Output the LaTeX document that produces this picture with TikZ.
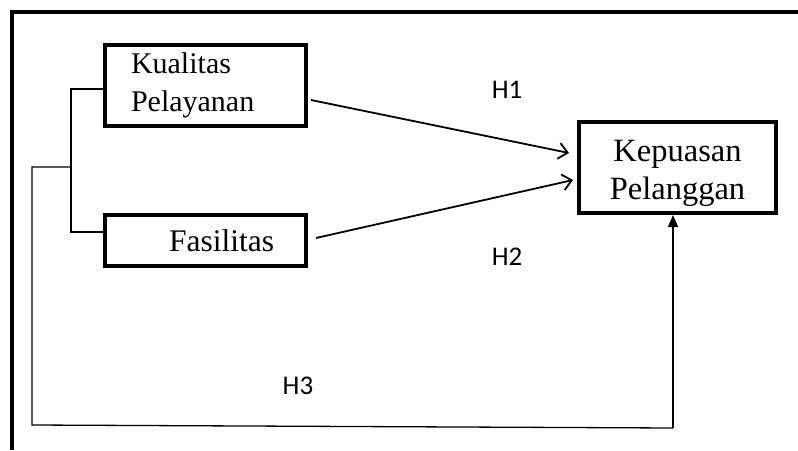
\documentclass[tikz,border=0pt]{standalone}
\usepackage{fontspec}
\setmainfont{Liberation Serif}
\newfontfamily\hfont{Carlito}
\usetikzlibrary{calc,arrows.meta}

\tikzset{
	varbox/.style={draw, line width=4pt, minimum width=197pt, font=\fontsize{30}{38}\selectfont},
	hyp/.style={font=\hfont\fontsize{27}{30}\selectfont},
	link/.style={line width=1.3pt},
	path/.style={line width=1.8pt, -{Straight Barb[length=9pt,width=16pt,line width=1.8pt]}}
}

\begin{document}
\begin{tikzpicture}[x=1pt, y=-1pt]
	\useasboundingbox (0,0) rectangle (798,450);
	\draw[line width=4pt] (11.5,450) -- (11.5,11.5) -- (798,11.5);
	\node[varbox, minimum width=201pt, minimum height=81pt, text width=149pt, inner xsep=26pt, align=left] (kp) at (205.5,85.5) {Kualitas\\Pelayanan};
	\node[varbox, minimum width=201pt, minimum height=51pt, text width=149pt, inner xsep=26pt, align=left, font=\fontsize{31.5}{38}\selectfont] (fas) at (205.5,240.5) {\hspace*{38pt}Fasilitas};
	\node[varbox, minimum height=91pt, align=center, font=\fontsize{32.5}{38}\selectfont] (kep) at (677.5,167.5) {\rule{0pt}{34pt}Kepuasan\\Pelanggan};
	\coordinate (split) at (71,167);
	\coordinate (root) at (32,167);
	\coordinate (low) at (32,425);
	\coordinate (turn) at (673,428);
	\draw[link] ($(kp.west)+(0,3.5)$) -| (split) |- ($(fas.west)+(0,-8.5)$);
	\draw[link] (split) -- (root) -- (low) -- (turn);
	\draw[link, -{Triangle[length=12pt,width=10pt]}] (turn) -- (turn |- kep.south);
	\draw[path] ($(kp.east)+(3,14.5)$) -- ($(kep.west)+(-8,-14.5)$);
	\draw[path] ($(fas.east)+(8,-2.5)$) -- ($(kep.west)+(-4,12.5)$);
	\node[hyp] (h1) at (507,90) {H1};
	\node[hyp] (h2) at (507,257) {H2};
	\node[hyp] (h3) at (298,386) {H3};
\end{tikzpicture}
\end{document}
